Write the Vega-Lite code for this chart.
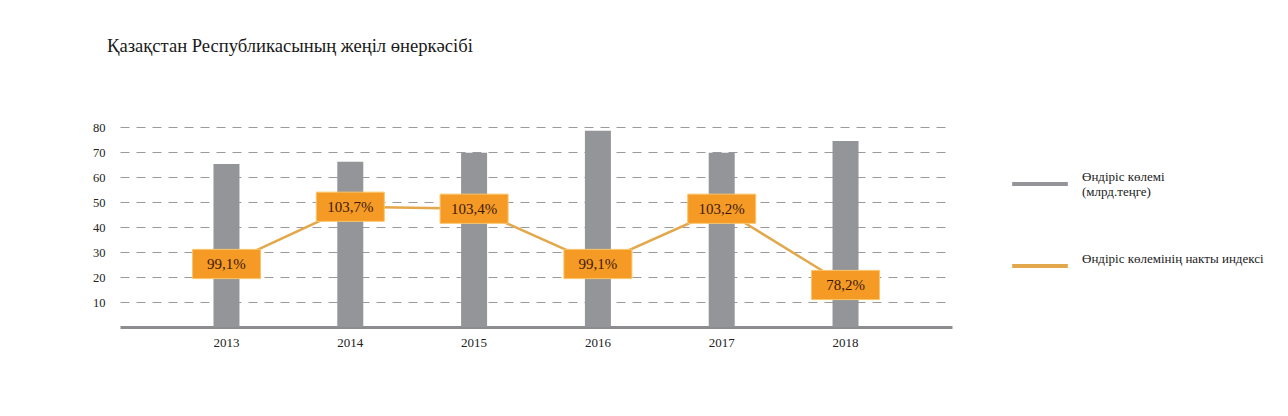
{
  "$schema": "https://vega.github.io/schema/vega-lite/v6.json",
  "width": 825,
  "height": 200,
  "autosize": {"type": "none"},
  "padding": {"left": 120, "top": 127, "right": 343, "bottom": 89},
  "background": "white",
  "title": {
    "text": "Қазақстан Республикасының жеңіл өнеркәсібі",
    "anchor": "start",
    "frame": "group",
    "dx": -13,
    "offset": 65,
    "font": "Liberation Serif",
    "fontSize": 18.6,
    "fontWeight": "normal",
    "color": "#1a1a1a"
  },
  "config": {
    "view": {"stroke": null},
    "font": "Liberation Serif",
    "text": {"font": "Liberation Serif"},
    "axisY": {
      "values": [10, 20, 30, 40, 50, 60, 70, 80],
      "labelOverlap": false,
      "domain": false,
      "ticks": false,
      "labelPadding": 15,
      "labelFont": "Liberation Serif",
      "labelFontSize": 12.5,
      "labelColor": "#222222",
      "gridColor": "#9a9a9a",
      "gridDash": [9, 7],
      "gridWidth": 1
    }
  },
  "data": {
    "values": [
      {"year": "2013", "volume": 65.2, "indexLabel": "99,1%", "indexY": 25.2},
      {"year": "2014", "volume": 66.1, "indexLabel": "103,7%", "indexY": 48.1},
      {"year": "2015", "volume": 69.7, "indexLabel": "103,4%", "indexY": 47.3},
      {"year": "2016", "volume": 78.5, "indexLabel": "99,1%", "indexY": 25.2},
      {"year": "2017", "volume": 69.7, "indexLabel": "103,2%", "indexY": 47.3},
      {"year": "2018", "volume": 74.4, "indexLabel": "78,2%", "indexY": 16.8}
    ]
  },
  "encoding": {
    "x": {
      "field": "year",
      "type": "nominal",
      "title": null,
      "scale": {"paddingInner": 0, "paddingOuter": 0.36, "range": [0, 832]},
      "axis": {
        "labelAngle": 0,
        "ticks": false,
        "grid": false,
        "domainColor": "#8c8d90",
        "domainWidth": 3,
        "labelPadding": 9,
        "labelFont": "Liberation Serif",
        "labelFontSize": 13,
        "labelColor": "#222222"
      }
    }
  },
  "layer": [
    {
      "mark": {"type": "bar", "size": 26, "color": "#939598"},
      "encoding": {
        "y": {
          "field": "volume",
          "type": "quantitative",
          "title": null,
          "scale": {"domain": [0, 80], "nice": false},
          "axis": {"values": [10, 20, 30, 40, 50, 60, 70, 80], "tickCount": 8}
        },
        "color": {
          "datum": "Өндіріс көлемі (млрд.теңге)",
          "type": "nominal",
          "scale": {
            "domain": ["Өндіріс көлемі (млрд.теңге)", "Өндіріс көлемінің накты индексі"],
            "range": ["#939598", "#E3A84B"]
          },
          "legend": {
            "title": null,
            "orient": "none",
            "legendX": 890,
            "legendY": 27,
            "symbolType": "stroke",
            "symbolSize": 3100,
            "symbolStrokeWidth": 4,
            "rowPadding": 37,
            "labelFont": "Liberation Serif",
            "labelFontSize": 13,
            "labelColor": "#222222",
            "labelOffset": 12,
            "labelLimit": 300,
            "labelBaseline": "bottom",
            "labelExpr": "datum.label == 'Өндіріс көлемі (млрд.теңге)' ? ['Өндіріс көлемі', '(млрд.теңге)'] : datum.label"
          }
        }
      }
    },
    {
      "mark": {"type": "line", "strokeWidth": 2.5},
      "encoding": {
        "y": {"field": "indexY", "type": "quantitative", "title": null, "axis": {"values": [10, 20, 30, 40, 50, 60, 70, 80], "tickCount": 8}},
        "color": {"datum": "Өндіріс көлемінің накты индексі", "type": "nominal"}
      }
    },
    {
      "mark": {
        "type": "point",
        "shape": "M-1,-0.43H1V0.43H-1Z",
        "size": 4624,
        "filled": true,
        "opacity": 1,
        "color": "#F59B25",
        "stroke": "#FBC46A",
        "strokeWidth": 1
      },
      "encoding": {
        "y": {"field": "indexY", "type": "quantitative", "title": null, "axis": {"values": [10, 20, 30, 40, 50, 60, 70, 80], "tickCount": 8}}
      }
    },
    {
      "mark": {
        "type": "text",
        "font": "Liberation Serif",
        "fontSize": 15,
        "color": "#3d1808",
        "baseline": "middle"
      },
      "encoding": {
        "y": {"field": "indexY", "type": "quantitative", "title": null, "axis": {"values": [10, 20, 30, 40, 50, 60, 70, 80], "tickCount": 8}},
        "text": {"field": "indexLabel"}
      }
    }
  ]
}
